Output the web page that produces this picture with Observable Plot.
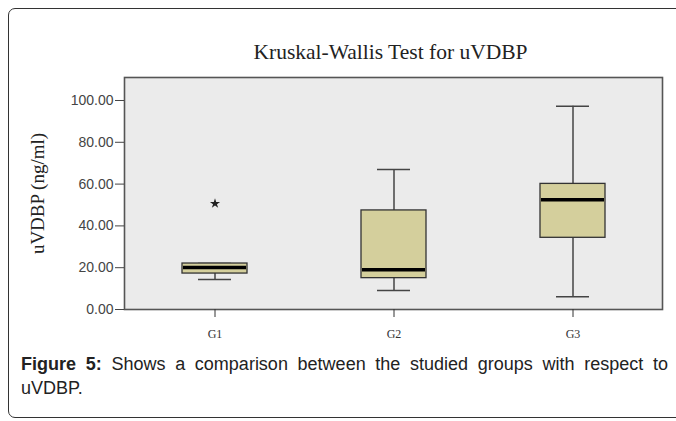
<!DOCTYPE html>
<html>
<head>
<meta charset="utf-8">
<script src="https://cdn.jsdelivr.net/npm/d3@7"></script>
<script src="https://cdn.jsdelivr.net/npm/@observablehq/plot@0.6"></script>
<style>
  html, body { margin: 0; padding: 0; background: #fff; width: 676px; height: 421px; overflow: hidden; }
  #wrap { position: relative; width: 676px; height: 421px; }
  #border { position: absolute; left: 8px; top: 8px; width: 720px; height: 410px; border: 1.6px solid #333; border-radius: 7px; box-sizing: border-box; }
  #chart { position: absolute; left: 0; top: 0; }
  #caption { position: absolute; left: 21px; top: 352px; width: 647px; font-family: "Liberation Sans", Arial, sans-serif; font-size: 18px; line-height: 24px; color: #222; }
  #caption .l1 { text-align: justify; text-align-last: justify; white-space: nowrap; }
</style>
</head>
<body>
<div id="wrap">
  <div id="border"></div>
  <div id="chart"></div>
  <div id="caption">
    <div class="l1"><b>Figure 5:</b> Shows a comparison between the studied groups with respect to</div>
    <div>uVDBP.</div>
  </div>
</div>
<script>
// Data
const groups    = ["G1", "G2", "G3"];
const whiskerLo = [14.4, 9.1, 6.1];
const q1        = [17.2, 15.0, 34.3];
const median    = [20.1, 19.0, 52.5];
const q3        = [22.0, 47.4, 60.1];
const whiskerHi = [22.0, 67.0, 97.3];
const outlierGroups = ["G1"];
const outlierValues = [50.7];
const yTicks = [0, 20, 40, 60, 80, 100];
const title = "Kruskal-Wallis Test for uVDBP";
const yLabel = "uVDBP (ng/ml)";

const stats = groups.map((g, i) => ({group: g, lo: whiskerLo[i], q1: q1[i], med: median[i], q3: q3[i], hi: whiskerHi[i]}));
const outliers = outlierGroups.map((g, i) => ({group: g, value: outlierValues[i]}));

const serif = "'Liberation Serif', 'Times New Roman', serif";
const sans = "'Liberation Sans', Arial, sans-serif";

const chart = Plot.plot({
  width: 676,
  height: 345,
  marginTop: 77,
  marginLeft: 124,
  marginRight: 14,
  marginBottom: 36,
  style: {background: "transparent", overflow: "visible"},
  x: {domain: groups, padding: 0},
  y: {domain: [0, 111]},
  marks: [
    Plot.frame({fill: "#ebebeb"}),
    Plot.ruleX(stats, {x: "group", y1: "lo", y2: "hi", stroke: "#444", strokeWidth: 1.5}),
    Plot.tickY(stats, {x: "group", y: "lo", stroke: "#444", strokeWidth: 1.5, insetLeft: 73, insetRight: 73}),
    Plot.tickY(stats, {x: "group", y: "hi", stroke: "#444", strokeWidth: 1.5, insetLeft: 73, insetRight: 73}),
    Plot.barY(stats, {x: "group", y1: "q1", y2: "q3", fill: "#d4cf9c", stroke: "#333", strokeWidth: 1.3, insetLeft: 57, insetRight: 57}),
    Plot.tickY(stats, {x: "group", y: "med", stroke: "#000", strokeWidth: 3.5, insetLeft: 58, insetRight: 58}),
    Plot.dot(outliers, {x: "group", y: "value", symbol: "star", r: 3.2, fill: "#222", stroke: "none"}),
    Plot.frame({stroke: "#555", strokeWidth: 1.6}),
    Plot.axisY({ticks: yTicks, tickFormat: d => d.toFixed(2), tickSize: 9, tickPadding: 2, fontSize: 14, fontFamily: sans, color: "#444", label: null}),
    Plot.axisX({tickSize: 8, tickPadding: 12, fontSize: 12, fontFamily: serif, color: "#333", label: null}),
    Plot.text([title], {frameAnchor: "top", lineAnchor: "bottom", dy: -19, dx: -3, fontSize: 21.5, fontFamily: serif, fill: "#222"}),
    Plot.text([yLabel], {frameAnchor: "left", textAnchor: "middle", rotate: -90, dx: -87, fontSize: 19, fontFamily: serif, fill: "#222"})
  ]
});
document.getElementById("chart").appendChild(chart);
</script>
</body>
</html>
